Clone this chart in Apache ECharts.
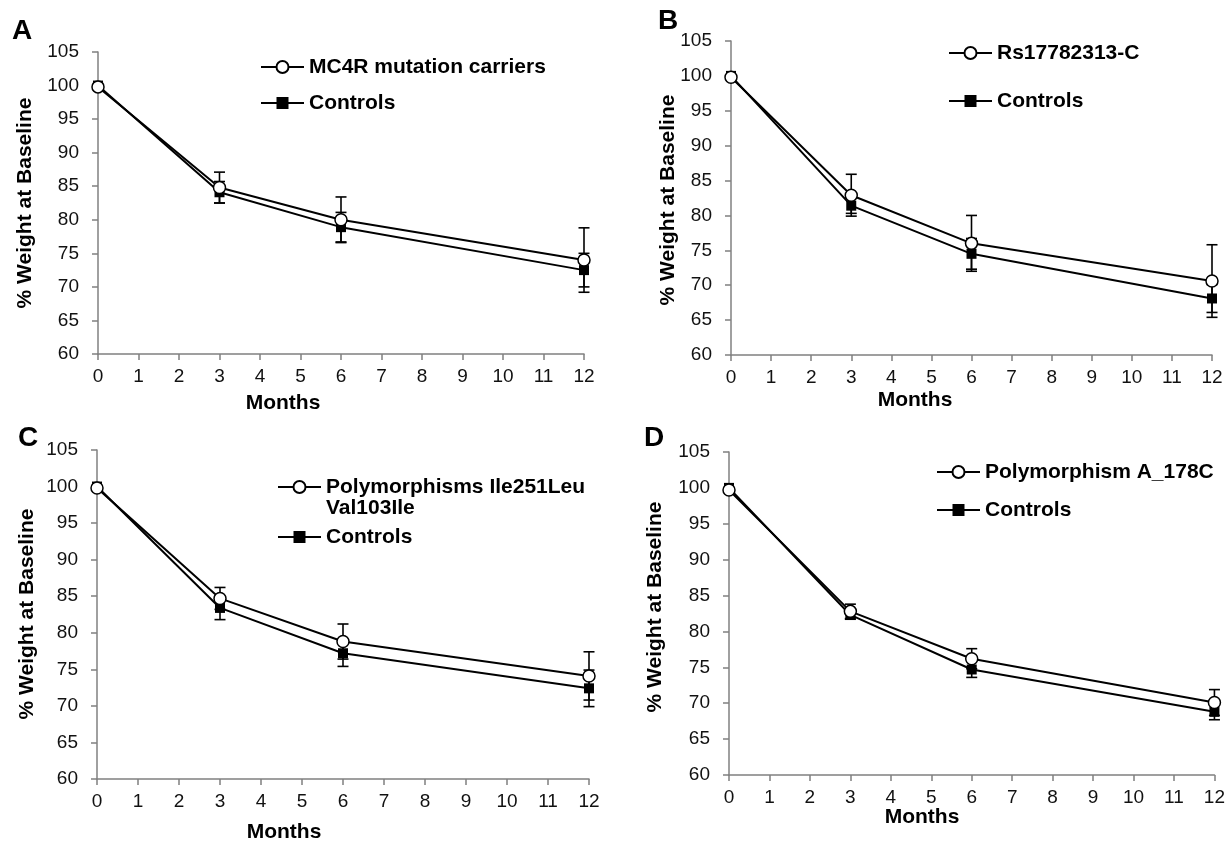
<!DOCTYPE html>
<html>
<head>
<meta charset="utf-8">
<script src="https://cdn.jsdelivr.net/npm/echarts@6/dist/echarts.min.js"></script>
<style>
html,body{margin:0;padding:0;background:#fff;}
#chart{width:1228px;height:843px;}
</style>
</head>
<body>
<div id="chart"></div>
<script>
// ---------- data ----------
const months = [0, 3, 6, 12];
const xTicks = [0,1,2,3,4,5,6,7,8,9,10,11,12];
const yTicks = [60,65,70,75,80,85,90,95,100,105];

const panelLetters = ['A','B','C','D'];
const groupNames = ['MC4R mutation carriers', 'Rs17782313-C', 'Polymorphisms Ile251Leu\nVal103Ile', 'Polymorphism A_178C'];
const controlName = 'Controls';

const aGroup = [99.8, 84.8, 80.0, 74.0];
const aGroupErr = [0, 2.3, 3.4, 4.8];
const aCtrl = [100.0, 84.1, 78.9, 72.5];
const aCtrlErr = [0, 1.6, 2.2, 2.5];

const bGroup = [99.8, 82.9, 76.0, 70.6];
const bGroupErr = [0, 3.0, 4.0, 5.2];
const bCtrl = [100.0, 81.4, 74.5, 68.1];
const bCtrlErr = [0, 1.1, 2.2, 2.0];

const cGroup = [99.8, 84.7, 78.8, 74.1];
const cGroupErr = [0, 1.5, 2.4, 3.3];
const cCtrl = [100.0, 83.4, 77.2, 72.4];
const cCtrlErr = [0, 1.6, 1.8, 2.5];

const dGroup = [99.7, 82.8, 76.2, 70.1];
const dGroupErr = [0, 1.0, 1.4, 1.8];
const dCtrl = [100.0, 82.3, 74.7, 68.8];
const dCtrlErr = [0, 0.6, 1.1, 1.1];

const groups = [aGroup, bGroup, cGroup, dGroup];
const groupErrs = [aGroupErr, bGroupErr, cGroupErr, dGroupErr];
const ctrls = [aCtrl, bCtrl, cCtrl, dCtrl];
const ctrlErrs = [aCtrlErr, bCtrlErr, cCtrlErr, dCtrlErr];

// ---------- layout ----------
const FONT = '"Liberation Sans", Arial, sans-serif';
const grids = [
  {left: 98,  top: 52,  width: 486, height: 302},
  {left: 731, top: 41,  width: 481, height: 314},
  {left: 97,  top: 450, width: 492, height: 329},
  {left: 729, top: 452, width: 487, height: 323}
];
const letterPos = [[22,31],[668,21],[28,438],[654,438]];
const yTitlePos = [[25,203],[668,200],[27,614],[655,607]];
const monthsPos = [[283,403],[915,400],[284,832],[922,817]];
const legendRows = [
  {left: 260, rows: [67, 103]},
  {left: 948, rows: [53, 101]},
  {left: 277, rows: [487, 537]},
  {left: 936, rows: [472, 510]}
];

const axisColor = '#808080';

function errData(vals, errs) {
  const out = [];
  months.forEach((m, i) => { if (errs[i] > 0) out.push([m, vals[i] - errs[i], vals[i] + errs[i]]); });
  return out;
}
function renderErr(params, api) {
  const x = api.value(0), lo = api.value(1), hi = api.value(2);
  const p1 = api.coord([x, hi]), p2 = api.coord([x, lo]);
  const w = 5.5;
  const st = {stroke: '#000', lineWidth: 1.6};
  return {type: 'group', children: [
    {type: 'line', shape: {x1: p1[0], y1: p1[1], x2: p2[0], y2: p2[1]}, style: st},
    {type: 'line', shape: {x1: p1[0]-w, y1: p1[1], x2: p1[0]+w, y2: p1[1]}, style: st},
    {type: 'line', shape: {x1: p2[0]-w, y1: p2[1], x2: p2[0]+w, y2: p2[1]}, style: st}
  ]};
}

const option = {
  animation: false,
  backgroundColor: '#fff',
  grid: grids.map(g => Object.assign({containLabel: false}, g)),
  xAxis: grids.map((g, i) => ({
    type: 'value', gridIndex: i, min: 0, max: 12, interval: 1,
    axisLine: {show: true, lineStyle: {color: axisColor, width: 1.5}},
    axisTick: {show: true, length: 6, lineStyle: {color: axisColor, width: 1.5}},
    splitLine: {show: false},
    axisLabel: {color: '#111', fontSize: 19, fontFamily: FONT, margin: 13,
      formatter: v => (xTicks.indexOf(v) >= 0 ? String(v) : '')}
  })),
  yAxis: grids.map((g, i) => ({
    type: 'value', gridIndex: i, min: 60, max: 105, interval: 5,
    axisLine: {show: true, lineStyle: {color: axisColor, width: 1.5}},
    axisTick: {show: true, length: 6, lineStyle: {color: axisColor, width: 1.5}},
    splitLine: {show: false},
    axisLabel: {color: '#111', fontSize: 19, fontFamily: FONT, margin: 19,
      formatter: v => (yTicks.indexOf(v) >= 0 ? String(v) : '')}
  })),
  legend: [],
  series: [],
  graphic: []
};

for (let i = 0; i < 4; i++) {
  option.series.push({
    type: 'custom', xAxisIndex: i, yAxisIndex: i, renderItem: renderErr,
    encode: {x: 0, y: [1, 2]}, data: errData(groups[i], groupErrs[i]), z: 1, silent: true
  });
  option.series.push({
    type: 'custom', xAxisIndex: i, yAxisIndex: i, renderItem: renderErr,
    encode: {x: 0, y: [1, 2]}, data: errData(ctrls[i], ctrlErrs[i]), z: 1, silent: true
  });
  option.series.push({
    name: controlName, type: 'line', xAxisIndex: i, yAxisIndex: i,
    data: months.map((m, k) => [m, ctrls[i][k]]),
    symbol: 'rect', symbolSize: 10, showSymbol: true,
    lineStyle: {color: '#000', width: 2},
    itemStyle: {color: '#000', borderColor: '#000', borderWidth: 0},
    z: 3
  });
  option.series.push({
    name: groupNames[i], type: 'line', xAxisIndex: i, yAxisIndex: i,
    data: months.map((m, k) => [m, groups[i][k]]),
    symbol: 'circle', symbolSize: 12, showSymbol: true,
    lineStyle: {color: '#000', width: 2},
    itemStyle: {color: '#fff', borderColor: '#000', borderWidth: 1.5},
    z: 4
  });

  const lr = legendRows[i];
  const multi = groupNames[i].indexOf('\n') >= 0;
  const baseText = {fontSize: 21, fontWeight: 'bold', fontFamily: FONT, color: '#000', lineHeight: 21};
  const legendCommon = {
    orient: 'vertical', left: lr.left, padding: 0, itemWidth: 43, itemHeight: 15, itemGap: 0,
    selectedMode: false, lineStyle: {width: 2, color: '#000'}, textStyle: baseText
  };
  option.legend.push(Object.assign({}, legendCommon, {
    data: [groupNames[i]],
    top: multi ? lr.rows[0] - 31.5 : lr.rows[0] - 10.5,
    formatter: multi ? (name => ' \n' + name) : (name => name)
  }));
  option.legend.push(Object.assign({}, legendCommon, {
    data: [controlName], top: lr.rows[1] - 10.5
  }));

  option.graphic.push({
    type: 'text', x: letterPos[i][0], y: letterPos[i][1],
    style: {text: panelLetters[i], font: 'bold 28px ' + FONT, fill: '#000', textAlign: 'center', textVerticalAlign: 'middle'}
  });
  option.graphic.push({
    type: 'text', x: yTitlePos[i][0], y: yTitlePos[i][1], rotation: Math.PI / 2,
    style: {text: '% Weight at Baseline', font: 'bold 21px ' + FONT, fill: '#000', textAlign: 'center', textVerticalAlign: 'middle'}
  });
  option.graphic.push({
    type: 'text', x: monthsPos[i][0], y: monthsPos[i][1],
    style: {text: 'Months', font: 'bold 21px ' + FONT, fill: '#000', textAlign: 'center', textVerticalAlign: 'middle'}
  });
}

const chart = echarts.init(document.getElementById('chart'), null, {renderer: 'canvas'});
chart.setOption(option);
</script>
</body>
</html>
